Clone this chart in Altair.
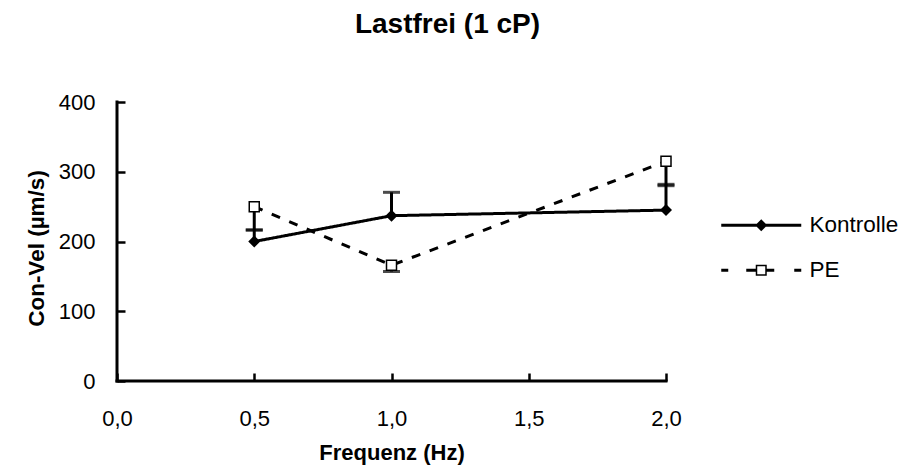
import altair as alt
import pandas as pd

# ---- data ----
freq = [0.5, 1.0, 2.0]
kontrolle = [200, 237, 245]
kontrolle_err = [16.5, 33.5, 37]
pe = [250, 166, 315]
pe_err = [33.5, 9, 35]
series_names = ["Kontrolle", "PE"]
x_ticks = [0.0, 0.5, 1.0, 1.5, 2.0]
y_ticks = [0, 100, 200, 300, 400]

rows = []
for f, m, e in zip(freq, kontrolle, kontrolle_err):
    rows.append(dict(freq=f, value=m, end=m + e, series="Kontrolle"))
for f, m, e in zip(freq, pe, pe_err):
    rows.append(dict(freq=f, value=m, end=m - e, series="PE"))
df = pd.DataFrame(rows)

FONT = "Liberation Sans"

# legend symbols (custom paths, unit = 10 px)
path_k = ("M-7.3,-0.15L0.7,-0.15L0.7,0.15L-7.3,0.15Z"
          "M-3.3,-0.6L-2.7,0L-3.3,0.6L-3.9,0Z")
path_pe = ("M-7.3,-0.15L-6.6,-0.15L-6.6,0.15L-7.3,0.15Z"
           "M-4.8,-0.15L-3.85,-0.15L-3.85,0.15L-4.8,0.15Z"
           "M-2.75,-0.15L-2.0,-0.15L-2.0,0.15L-2.75,0.15Z"
           "M0,-0.15L0.7,-0.15L0.7,0.15L0,0.15Z"
           "M-3.85,-0.55L-2.75,-0.55L-2.75,0.55L-3.85,0.55Z"
           "M-3.7,-0.4L-3.7,0.4L-2.9,0.4L-2.9,-0.4Z")

x_enc = alt.X(
    "freq:Q",
    scale=alt.Scale(domain=[x_ticks[0], x_ticks[-1]], nice=False, zero=False),
    axis=alt.Axis(
        values=x_ticks,
        labelExpr="replace(format(datum.value, '.1f'), '.', ',')",
        domain=False, grid=False, offset=-8, tickSize=8, tickWidth=2.5,
        tickColor="black", labelPadding=27, labelFlush=False, labelOverlap=False,
        labelFont=FONT, labelFontSize=22, labelColor="black",
        title="Frequenz (Hz)", titleFont=FONT, titleFontSize=22,
        titleFontWeight="bold", titleColor="black", titlePadding=13,
    ),
)
y_enc = alt.Y(
    "value:Q",
    scale=alt.Scale(domain=[y_ticks[0], y_ticks[-1]], nice=False),
    axis=alt.Axis(
        values=y_ticks, format="d",
        domain=False, grid=False, offset=-8, tickSize=8, tickWidth=2.5,
        tickColor="black", labelPadding=22, labelFlush=False, labelOverlap=False,
        labelFont=FONT, labelFontSize=22, labelColor="black",
        title="Con-Vel (µm/s)", titleFont=FONT, titleFontSize=22.5,
        titleFontWeight="bold", titleColor="black", titlePadding=10,
        titleY=146,
    ),
)

base = alt.Chart(df)

lines = base.mark_line(color="black", strokeWidth=3).encode(
    x=x_enc, y=y_enc,
    strokeDash=alt.StrokeDash("series:N",
                              scale=alt.Scale(domain=series_names, range=[[1, 0], [9, 10]]),
                              legend=None),
)

err = base.mark_rule(color="black", strokeWidth=3).encode(
    x="freq:Q", y="value:Q", y2="end:Q")

caps = base.mark_tick(orient="horizontal", size=17, thickness=3, color="black").encode(
    x="freq:Q", y="end:Q")

pts_k = base.transform_filter(alt.datum.series == "Kontrolle").mark_point(
    shape="diamond", filled=True, size=144, color="black", opacity=1).encode(
    x="freq:Q", y="value:Q")

pts_pe = base.transform_filter(alt.datum.series == "PE").mark_point(
    shape="square", filled=True, size=100, fill="white", stroke="black",
    strokeWidth=1.5, opacity=1).encode(x="freq:Q", y="value:Q")

legend_layer = base.mark_point(filled=True, color="black", opacity=0).encode(
    x="freq:Q", y="value:Q",
    shape=alt.Shape("series:N",
                    scale=alt.Scale(domain=series_names, range=[path_k, path_pe]),
                    legend=alt.Legend(
                        title=None, orient="none", legendX=666, legendY=112,
                        symbolSize=400, symbolFillColor="black", symbolStrokeWidth=0,
                        symbolOpacity=1, labelFont=FONT, labelFontSize=22.5,
                        labelColor="black", labelOffset=4, rowPadding=22, padding=0,
                    )),
)

x_axis_line = alt.Chart(pd.DataFrame({"a": [0]})).mark_rule(
    color="black", strokeWidth=3, strokeCap="square").encode(
    x=alt.datum(x_ticks[0]), x2=alt.datum(x_ticks[-1]), y=alt.datum(y_ticks[0]))
y_axis_line = alt.Chart(pd.DataFrame({"a": [0]})).mark_rule(
    color="black", strokeWidth=3, strokeCap="square").encode(
    x=alt.datum(x_ticks[0]), y=alt.datum(y_ticks[0]), y2=alt.datum(y_ticks[-1]))

chart = alt.layer(
    legend_layer, lines, err, caps, x_axis_line, y_axis_line, pts_k, pts_pe
).properties(
    width=549, height=279,
    title=alt.TitleParams("Lastfrei (1 cP)", font=FONT, fontSize=28, fontWeight="bold",
                          color="black", anchor="middle", dx=56, offset=52),
    autosize=alt.AutoSizeParams(type="none"),
    padding={"left": 109, "top": 94, "right": 233, "bottom": 86},
    background="white",
).configure_view(stroke=None)

chart.save("out.html", embed_options={"renderer": "svg", "actions": False})
